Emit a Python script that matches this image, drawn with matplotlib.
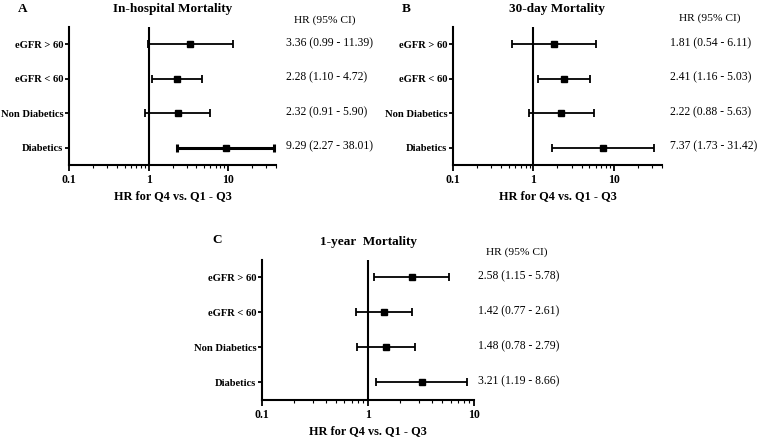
import numpy as np
import matplotlib
matplotlib.use('Agg')
import matplotlib.pyplot as plt
from matplotlib.ticker import LogLocator, NullFormatter, FixedLocator, FixedFormatter

plt.rcParams['font.family'] = ['Liberation Serif', 'DejaVu Serif']

groups = ['eGFR > 60', 'eGFR < 60', 'Non Diabetics', 'Diabetics']

# In-hospital mortality
hr_a = [3.36, 2.28, 2.32, 9.29]
lo_a = [0.99, 1.10, 0.91, 2.27]
hi_a = [11.39, 4.72, 5.90, 38.01]

# 30-day mortality
hr_b = [1.81, 2.41, 2.22, 7.37]
lo_b = [0.54, 1.16, 0.88, 1.73]
hi_b = [6.11, 5.03, 5.63, 31.42]

# 1-year mortality
hr_c = [2.58, 1.42, 1.48, 3.21]
lo_c = [1.15, 0.77, 0.78, 1.19]
hi_c = [5.78, 2.61, 2.79, 8.66]

fig = plt.figure(figsize=(7.57, 4.37), dpi=100)


def forest(rect, hr, lo, hi, xmax, title, letter, letter_xy, head_xy, val_dx,
           thick=None):
    ax = fig.add_axes(rect)
    hr, lo, hi = map(np.array, (hr, lo, hi))
    y = np.arange(len(groups))[::-1] + 1
    for i in range(len(hr)):
        lw = 2.2 if thick == i else 1.3
        ax.errorbar(hr[i], y[i], xerr=[[hr[i] - lo[i]], [hi[i] - hr[i]]],
                    fmt='s', color='black', ms=4.5, elinewidth=lw,
                    capsize=3, capthick=lw)
    ax.axvline(1, color='black', lw=1.5)
    ax.set_xscale('log')
    ax.set_xlim(0.1, xmax)
    ax.set_ylim(0.5, 4.5)
    ax.set_yticks(y)
    ax.set_yticklabels(groups, fontsize=7.6, fontweight='bold')
    ax.xaxis.set_major_locator(FixedLocator([0.1, 1, 10]))
    ax.xaxis.set_major_formatter(FixedFormatter(['0.1', '1', '10']))
    ax.xaxis.set_minor_locator(LogLocator(base=10, subs=np.arange(2, 10)))
    ax.xaxis.set_minor_formatter(NullFormatter())
    for lab in ax.get_xticklabels():
        lab.set_fontweight('bold')
        lab.set_fontsize(8.5)
    ax.tick_params(axis='y', which='major', length=3, width=1.3, pad=1)
    ax.tick_params(axis='x', which='major', length=4, width=1.3, pad=2.5)
    ax.tick_params(axis='x', which='minor', length=2.2, width=0.8)
    for s in ['top', 'right']:
        ax.spines[s].set_visible(False)
    for s in ['left', 'bottom']:
        ax.spines[s].set_linewidth(1.5)
    ax.set_xlabel('HR for Q4 vs. Q1 - Q3', fontsize=8.8, fontweight='bold', labelpad=3)
    ax.set_title(title, fontsize=9.5, fontweight='bold', pad=11)
    ax.text(letter_xy[0], letter_xy[1], letter, transform=ax.transAxes,
            fontsize=9.5, fontweight='bold', ha='left', va='center')
    ax.text(head_xy[0], head_xy[1], 'HR (95% CI)', transform=ax.transAxes,
            fontsize=8.2, ha='center', va='center')
    for i in range(len(hr)):
        ax.text(1 + val_dx, y[i] + 0.03, f'{hr[i]:.2f} ({lo[i]:.2f} - {hi[i]:.2f})',
                transform=ax.get_yaxis_transform(), fontsize=8.4, ha='left',
                va='center')
    return ax


forest([0.0912, 0.6224, 0.2734, 0.3158], hr_a, lo_a, hi_a, 40,
       'In-hospital Mortality', 'A', (-0.246, 1.13), (1.237, 1.05), 0.048,
       thick=3)
forest([0.5984, 0.6224, 0.2761, 0.3158], hr_b, lo_b, hi_b, 40,
       '30-day Mortality', 'B', (-0.244, 1.13), (1.23, 1.065), 0.038)
forest([0.3461, 0.0847, 0.2801, 0.3204], hr_c, lo_c, hi_c, 10,
       '1-year  Mortality', 'C', (-0.236, 1.14), (1.203, 1.056), 0.02)

fig.savefig('out.png', dpi=100)
